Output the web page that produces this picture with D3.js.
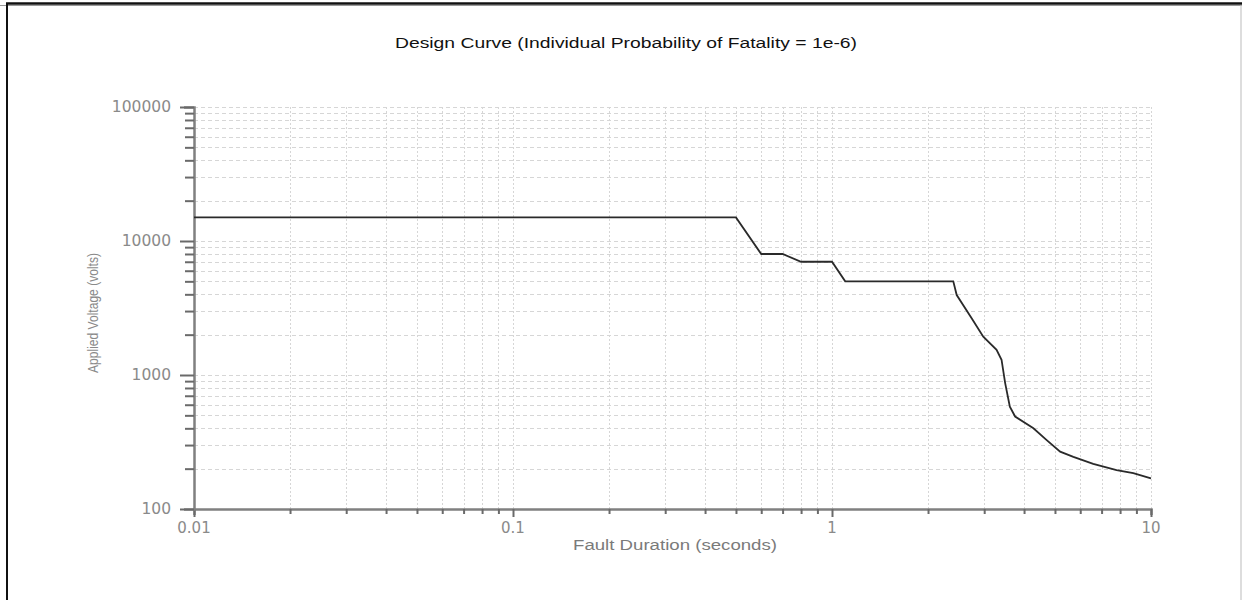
<!DOCTYPE html>
<html><head><meta charset="utf-8">
<script src="https://cdn.jsdelivr.net/npm/d3@7"></script>
<style>body{margin:0;background:#fff}svg{display:block}</style>
</head><body>
<svg id="c" width="1242" height="600"></svg>
<script>
const titleText = "Design Curve (Individual Probability of Fatality = 1e-6)";
const xLabel = "Fault Duration (seconds)";
const yLabel = "Applied Voltage (volts)";
const xMajorTicks = [0.01, 0.1, 1, 10];
const xTickLabels = ["0.01", "0.1", "1", "10"];
const yMajorTicks = [100, 1000, 10000, 100000];
const yTickLabels = ["100", "1000", "10000", "100000"];
const duration = [0.01, 0.5, 0.6, 0.7, 0.8, 1.0, 1.1, 2.4, 2.46, 2.74, 2.98, 3.28, 3.40, 3.49, 3.61, 3.75, 4.28, 4.71, 5.19, 5.71, 6.59, 7.80, 8.80, 10];
const voltage  = [15000, 15000, 8000, 8000, 7000, 7000, 5000, 5000, 3950, 2650, 1930, 1540, 1300, 870, 580, 490, 400, 327, 268, 245, 217, 195, 185, 169];

const svg = d3.select("#c");
const x = d3.scaleLog().domain([0.01, 10]).range([194, 1151]);
const y = d3.scaleLog().domain([100, 100000]).range([509, 107]);

// frame
svg.append("line").attr("x1",0).attr("x2",1242).attr("y1",5.5).attr("y2",5.5).attr("stroke","#999").attr("stroke-width",1);
svg.append("line").attr("x1",6).attr("x2",1242).attr("y1",3.5).attr("y2",3.5).attr("stroke","#111").attr("stroke-width",2.5);
svg.append("line").attr("x1",7).attr("x2",7).attr("y1",3).attr("y2",600).attr("stroke","#111").attr("stroke-width",2);
svg.append("line").attr("x1",1241).attr("x2",1241).attr("y1",5).attr("y2",600).attr("stroke","#bbb").attr("stroke-width",1);

function allTicks(lo, hi) {
  const out = [];
  for (let d = lo; d < hi; d *= 10) for (let k = 1; k <= 9; k++) out.push(d * k);
  out.push(hi);
  return out;
}
const xAll = allTicks(0.01, 10);
const yAll = allTicks(100, 100000);

// grid
svg.append("g").selectAll("line").data(yAll.filter(v => v > 100)).join("line")
  .attr("x1", x(0.01)).attr("x2", x(10))
  .attr("y1", d => Math.round(y(d)) + 0.5).attr("y2", d => Math.round(y(d)) + 0.5)
  .attr("stroke", "#d6d6d6").attr("stroke-width", 1).attr("stroke-dasharray", "4,3");
svg.append("g").selectAll("line").data(xAll.filter(v => v > 0.01)).join("line")
  .attr("x1", d => Math.round(x(d)) + 0.5).attr("x2", d => Math.round(x(d)) + 0.5)
  .attr("y1", y(100000)).attr("y2", y(100))
  .attr("stroke", "#d6d6d6").attr("stroke-width", 1).attr("stroke-dasharray", "2,2");

// axes
const isMajor = v => Math.abs(Math.log10(v) - Math.round(Math.log10(v))) < 1e-9;
const xAxis = d3.axisBottom(x).tickValues(xAll).tickSize(6).tickFormat(() => "");
const yAxis = d3.axisLeft(y).tickValues(yAll).tickSize(10).tickFormat(() => "");
const gx = svg.append("g").attr("transform", `translate(0,${y(100)})`).call(xAxis);
const gy = svg.append("g").attr("transform", `translate(${x(0.01)},0)`).call(yAxis);
[gx, gy].forEach(g => {
  g.select(".domain").attr("stroke", "#808080").attr("stroke-width", 2.5);
  g.selectAll(".tick line").attr("stroke", "#6a6a6a").attr("stroke-width", 2);
});
gx.selectAll(".tick line").attr("y2", d => isMajor(d) ? 8 : 5);
gy.selectAll(".tick line").attr("x2", d => isMajor(d) ? -14 : -9);

// tick labels
svg.append("g").selectAll("text").data(xMajorTicks).join("text")
  .attr("x", d => x(d)).attr("y", 533).attr("text-anchor", "middle")
  .attr("font-family", "DejaVu Sans, sans-serif").attr("font-size", 15).attr("fill", "#8a8a8a")
  .text((d, i) => xTickLabels[i]);
svg.append("g").selectAll("text").data(yMajorTicks).join("text")
  .attr("x", 171).attr("y", d => y(d) + 5).attr("text-anchor", "end")
  .attr("font-family", "DejaVu Sans, sans-serif").attr("font-size", 15.5).attr("fill", "#8a8a8a")
  .text((d, i) => yTickLabels[i]);

// curve
const line = d3.line().x(d => x(d[0])).y(d => y(d[1]));
svg.append("path").datum(duration.map((t, i) => [t, voltage[i]]))
  .attr("d", line).attr("fill", "none").attr("stroke", "#2a2a2a").attr("stroke-width", 1.8);

// titles
svg.append("text").attr("x", 395).attr("y", 48).attr("textLength", 462).attr("lengthAdjust", "spacingAndGlyphs")
  .attr("font-family", "Liberation Sans, sans-serif").attr("font-size", 14).attr("fill", "#111").text(titleText);
svg.append("text").attr("x", 573).attr("y", 550).attr("textLength", 204).attr("lengthAdjust", "spacingAndGlyphs")
  .attr("font-family", "Liberation Sans, sans-serif").attr("font-size", 14).attr("fill", "#7a7a7a").text(xLabel);
svg.append("text").attr("transform", "translate(98,373) rotate(-90)").attr("textLength", 120).attr("lengthAdjust", "spacingAndGlyphs")
  .attr("font-family", "Liberation Sans, sans-serif").attr("font-size", 15).attr("fill", "#8a8a8a").text(yLabel);
</script>
</body></html>
